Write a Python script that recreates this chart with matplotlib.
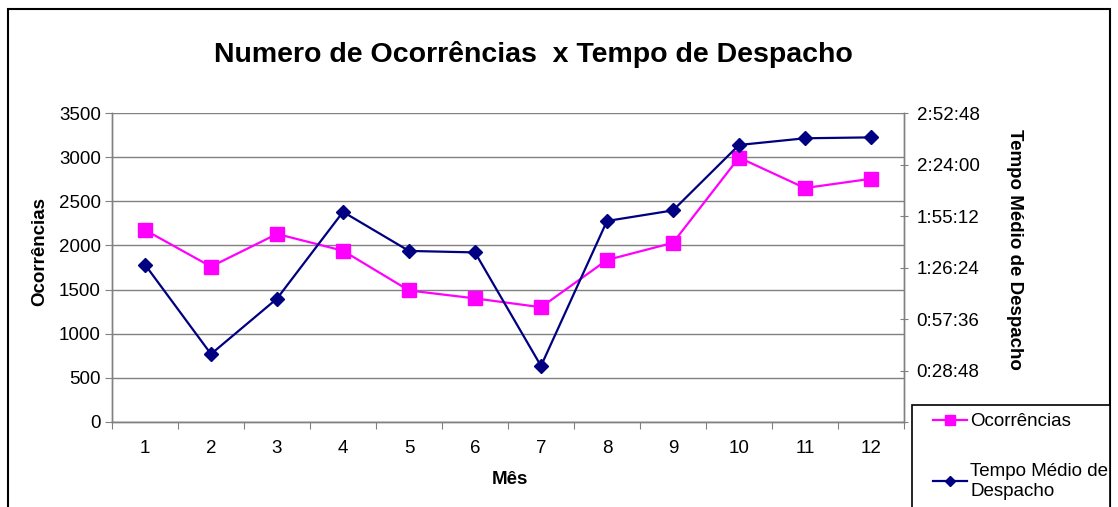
import matplotlib
matplotlib.use("Agg")
import matplotlib.pyplot as plt
import matplotlib.patches as patches
from matplotlib.ticker import FuncFormatter, FixedLocator

plt.rcParams['font.family'] = ['Liberation Sans', 'DejaVu Sans']

# DADOS
meses = [1, 2, 3, 4, 5, 6, 7, 8, 9, 10, 11, 12]
ocorrencias = [2175, 1760, 2130, 1940, 1490, 1400, 1300, 1835, 2030, 2995, 2650, 2755]
tempo_medio = ["1:28:00", "0:38:00", "1:09:00", "1:57:30", "1:35:40", "1:34:50",
               "0:31:20", "1:52:25", "1:58:20", "2:34:55", "2:38:40", "2:39:10"]


def hms_para_seg(s):
    h, m, sec = [int(v) for v in s.split(":")]
    return h * 3600 + m * 60 + sec


def seg_para_hms(v, pos=None):
    v = int(round(v))
    if v == 0:
        return ""  # fica escondido atras da legenda
    return "%d:%02d:%02d" % (v // 3600, (v % 3600) // 60, v % 60)


tempo_seg = [hms_para_seg(t) for t in tempo_medio]

W, H = 1118, 507
fig = plt.figure(figsize=(W / 100, H / 100), dpi=100)
ax = fig.add_axes([112 / W, 1 - 422 / H, (904 - 112) / W, (422 - 113) / H])
ax2 = ax.twinx()

grid_cor = '#808080'
ax.plot(meses, ocorrencias, color='#FF00FF', lw=1.6, marker='s', markersize=10,
        label='Ocorrências', zorder=3)
ax2.plot(meses, tempo_seg, color='#000080', lw=1.6, marker='D', markersize=7,
         label='Tempo Médio de\nDespacho', zorder=3)

# eixo esquerdo
ax.set_ylim(0, 3500)
ax.set_yticks(range(0, 3501, 500))
ax.yaxis.grid(True, color=grid_cor, lw=1.0)
ax.set_axisbelow(True)
ax.tick_params(axis='y', direction='out', length=5, color=grid_cor, labelsize=13.5, pad=3)

# eixo x com marcas entre as categorias
ax.set_xlim(0.5, 12.5)
ax.xaxis.set_major_locator(FixedLocator([i + 0.5 for i in range(0, 13)]))
ax.xaxis.set_minor_locator(FixedLocator(meses))
ax.xaxis.set_major_formatter(FuncFormatter(lambda v, p: ""))
ax.xaxis.set_minor_formatter(FuncFormatter(lambda v, p: "%d" % round(v)))
ax.tick_params(axis='x', which='major', direction='out', length=5, color=grid_cor)
ax.tick_params(axis='x', which='minor', length=0, labelsize=13.5, pad=13)

# eixo direito (tempo)
passo = 1728  # 0:28:48
ax2.set_ylim(0, 6 * passo)
ax2.set_yticks([i * passo for i in range(0, 7)])
ax2.yaxis.set_major_formatter(FuncFormatter(seg_para_hms))
ax2.tick_params(axis='y', direction='inout', length=6, color=grid_cor, labelsize=13.5, pad=6)

for a in (ax, ax2):
    a.spines['top'].set_visible(False)
    for s in ('left', 'bottom', 'right'):
        a.spines[s].set_color(grid_cor)
        a.spines[s].set_linewidth(1.0)

# textos
fig.text(533 / W, 1 - 55 / H, 'Numero de Ocorrências  x Tempo de Despacho',
         ha='center', va='center', fontsize=20.5, fontweight='bold')
fig.text(40 / W, 1 - 251 / H, 'Ocorrências', rotation=90, ha='center', va='center',
         fontsize=13.5, fontweight='bold')
fig.text(510 / W, 1 - 479 / H, 'Mês', ha='center', va='center',
         fontsize=13.5, fontweight='bold')
fig.text(1015 / W, 1 - 249 / H, 'Tempo Médio de Despacho', rotation=270,
         ha='center', va='center', fontsize=13.5, fontweight='bold')

# borda externa
fig.patches.append(patches.Rectangle((8 / W, -0.05), (1110 - 8) / W, 1.05 - 9 / H,
                                     transform=fig.transFigure, fill=False,
                                     edgecolor='black', lw=1.5))

# caixa da legenda (passa da borda inferior)
caixa = patches.Rectangle((912 / W, -0.05), (1110 - 912) / W, 0.05 + 1 - 405 / H,
                          transform=fig.transFigure, facecolor='white',
                          edgecolor='black', lw=1.2, zorder=5)
fig.patches.append(caixa)

h1, l1 = ax.get_legend_handles_labels()
h2, l2 = ax2.get_legend_handles_labels()
leg = fig.legend(h1 + h2, l1 + l2, loc='upper left',
                 bbox_to_anchor=(933 / W, 1 - 413 / H), fontsize=13.5,
                 frameon=False, handlelength=1.8, handletextpad=0.2,
                 labelspacing=1.75, borderaxespad=0, borderpad=0, markerscale=0.7)
leg.set_zorder(10)

fig.savefig('out.png', dpi=100)
